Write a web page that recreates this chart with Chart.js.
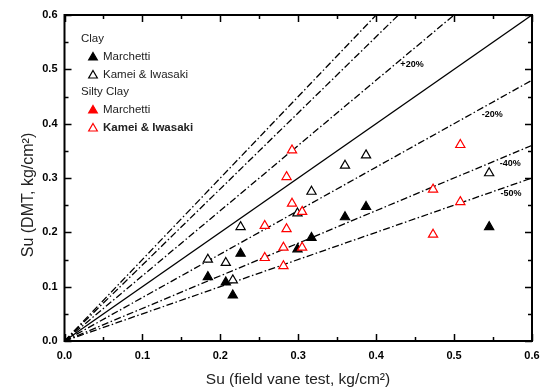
<!DOCTYPE html>
<html>
<head>
<meta charset="utf-8">
<script src="https://cdn.jsdelivr.net/npm/chart.js@4.4.0/dist/chart.umd.min.js"></script>
<style>
  html, body { margin: 0; padding: 0; background: #fff; }
  #wrap { width: 541px; height: 392px; }
</style>
</head>
<body>
<div id="wrap"><canvas id="chart"></canvas></div>
<script>
const clayX          = [0.184, 0.207, 0.216, 0.226, 0.299, 0.317, 0.360, 0.387, 0.545];
const clayMarchetti  = [0.118, 0.108, 0.084, 0.161, 0.169, 0.190, 0.228, 0.247, 0.210];
const clayKamei      = [0.150, 0.144, 0.112, 0.210, 0.235, 0.275, 0.323, 0.342, 0.309];

// Silty clay (all drawn as open red triangles in the figure)
const siltyX         = [0.257, 0.257, 0.281, 0.281, 0.285, 0.285, 0.292, 0.292, 0.305, 0.305, 0.473, 0.473, 0.508, 0.508];
const siltyKamei     = [0.212, 0.153, 0.172, 0.138, 0.302, 0.206, 0.351, 0.253, 0.238, 0.172, 0.279, 0.196, 0.361, 0.256];
const siltyMarchetti = [];

// Reference lines y = k * x
const ratios      = [1.5, 1.4, 1.2, 1.0, 0.8, 0.6, 0.5];
const ratioLabels = [
  { text: "+20%", x: 0.446, y: 0.508 },
  { text: "-20%", x: 0.549, y: 0.416 },
  { text: "-40%", x: 0.572, y: 0.326 },
  { text: "-50%", x: 0.573, y: 0.271 },
];

const xTicks = [0, 0.1, 0.2, 0.3, 0.4, 0.5, 0.6];
const yTicks = [0, 0.1, 0.2, 0.3, 0.4, 0.5, 0.6];

const FONT = "'Liberation Sans', Arial, sans-serif";
const RED = "rgb(255, 0, 0)";

const pts = (xs, ys) => ys.map((y, i) => ({ x: xs[i], y }));

const markerSets = [
  { data: pts(siltyX, siltyKamei),     fill: "#fff", stroke: RED },
  { data: pts(siltyX, siltyMarchetti), fill: RED,    stroke: RED },
  { data: pts(clayX, clayKamei),       fill: "#fff", stroke: "#000" },
  { data: pts(clayX, clayMarchetti),   fill: "#000", stroke: "#000" },
].map(s => ({
  type: "scatter",
  data: s.data,
  pointStyle: "triangle",
  pointRadius: 5.3,
  pointBorderWidth: 1.2,
  backgroundColor: s.fill,
  borderColor: s.stroke,
  order: 0,
}));

const lineSets = ratios.map(k => ({
  type: "scatter",
  data: [{ x: 0, y: 0 }, { x: 0.6, y: 0.6 * k }],
  showLine: true,
  pointRadius: 0,
  borderColor: "#000",
  borderWidth: 1.3,
  borderDash: k === 1 ? [] : [7, 2.5, 1.5, 2.5],
  order: 1,
}));

// inward ticks, frame, labels, legend, axis titles
const framePlugin = {
  id: "frame",
  afterDatasetsDraw(chart) {
    const { ctx, chartArea: a, scales: { x, y } } = chart;
    ctx.save();
    ctx.strokeStyle = "#000";
    ctx.lineWidth = 1.5;
    for (let i = 0; i <= 12; i++) {
      const v = i * 0.05;
      const len = i % 2 === 0 ? 7 : 4;
      const px = Math.round(x.getPixelForValue(v)) + 0.5;
      const py = Math.round(y.getPixelForValue(v)) + 0.5;
      ctx.beginPath();
      ctx.moveTo(px, a.bottom); ctx.lineTo(px, a.bottom - len);
      ctx.moveTo(px, a.top);    ctx.lineTo(px, a.top + len);
      ctx.moveTo(a.left, py);   ctx.lineTo(a.left + len, py);
      ctx.moveTo(a.right, py);  ctx.lineTo(a.right - len, py);
      ctx.stroke();
    }
    ctx.lineWidth = 2;
    ctx.strokeRect(a.left, a.top, a.right - a.left, a.bottom - a.top);

    // ratio labels
    ctx.fillStyle = "#000";
    ctx.font = "bold 9px " + FONT;
    ctx.textAlign = "center";
    ctx.textBaseline = "middle";
    ratioLabels.forEach(l => {
      ctx.fillText(l.text, x.getPixelForValue(l.x), y.getPixelForValue(l.y));
    });

    // legend
    const rows = [
      { head: "Clay", y: 39 },
      { label: "Marchetti",       y: 57,  fill: "#000", stroke: "#000" },
      { label: "Kamei & Iwasaki", y: 75,  fill: "#fff", stroke: "#000" },
      { head: "Silty Clay", y: 92 },
      { label: "Marchetti",       y: 110, fill: RED,    stroke: RED },
      { label: "Kamei & Iwasaki", y: 128, fill: "#fff", stroke: RED, bold: true },
    ];
    ctx.textAlign = "left";
    rows.forEach(r => {
      ctx.fillStyle = "#222";
      if (r.head) {
        ctx.font = "11.5px " + FONT;
        ctx.fillText(r.head, 81, r.y);
        return;
      }
      ctx.fillStyle = r.fill;
      ctx.strokeStyle = r.stroke;
      ctx.lineWidth = 1.2;
      Chart.helpers.drawPoint(ctx, { pointStyle: "triangle", radius: 5, rotation: 0, borderWidth: 1.2 }, 93, r.y + 0.5);
      ctx.fillStyle = "#222";
      ctx.font = (r.bold ? "bold " : "") + "11.5px " + FONT;
      ctx.fillText(r.label, 103, r.y);
    });

    // axis titles
    ctx.fillStyle = "#222";
    ctx.font = "15.5px " + FONT;
    ctx.textAlign = "center";
    ctx.fillText("Su (field vane test, kg/cm\u00B2)", 298, 380);
    ctx.translate(29, 195);
    ctx.rotate(-Math.PI / 2);
    ctx.font = "16px " + FONT;
    ctx.fillText("Su (DMT, kg/cm\u00B2)", 0, 0);
    ctx.restore();
  }
};

new Chart(document.getElementById("chart"), {
  type: "scatter",
  data: { datasets: [...markerSets, ...lineSets] },
  options: {
    responsive: true,
    maintainAspectRatio: false,
    animation: false,
    layout: { padding: { left: 0, top: 15, right: 9, bottom: 0 } },
    plugins: { legend: { display: false }, tooltip: { enabled: false } },
    scales: {
      x: {
        type: "linear", min: 0, max: 0.6,
        afterBuildTicks: s => { s.ticks = xTicks.map(v => ({ value: v })); },
        afterFit: s => { s.height = 51; s.paddingLeft = 0; s.paddingRight = 0; },
        grid: { display: false, drawTicks: false },
        border: { display: false },
        ticks: {
          padding: 8, color: "#000",
          font: { family: FONT, size: 11, weight: "bold" },
          callback: v => v.toFixed(1),
        },
      },
      y: {
        type: "linear", min: 0, max: 0.6,
        afterBuildTicks: s => { s.ticks = yTicks.map(v => ({ value: v })); },
        afterFit: s => { s.width = 64.5; s.paddingTop = 0; s.paddingBottom = 0; },
        grid: { display: false, drawTicks: false },
        border: { display: false },
        ticks: {
          padding: 7, color: "#000",
          font: { family: FONT, size: 11, weight: "bold" },
          callback: v => v.toFixed(1),
        },
      },
    },
  },
  plugins: [framePlugin],
});
</script>
</body>
</html>
